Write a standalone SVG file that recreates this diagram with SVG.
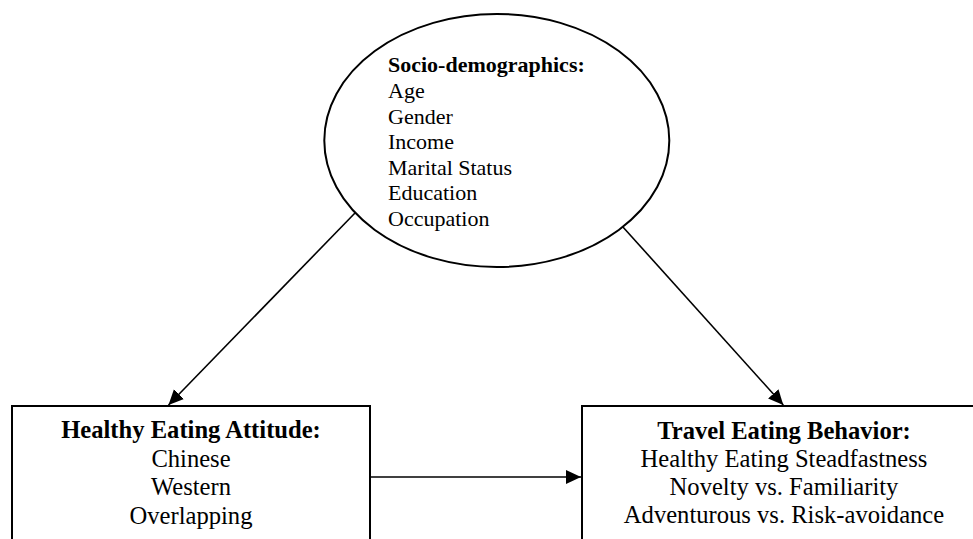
<svg xmlns="http://www.w3.org/2000/svg" width="973" height="539" viewBox="0 0 973 539">
<defs>
<marker id="ah" markerUnits="userSpaceOnUse" markerWidth="16" markerHeight="16" refX="15" refY="7" orient="auto">
<path d="M0,0 L15,7 L0,14 z" fill="#000"/>
</marker>
<style>
.shape{fill:#fff;stroke:#000;stroke-width:2}
.conn{stroke:#000;stroke-width:1.6;fill:none;marker-end:url(#ah)}
.t{font-family:"Liberation Serif","Times New Roman",serif;fill:#000}
.e{font-size:22px}
.b{font-size:24.6px;text-anchor:middle}
.h{font-weight:bold}
</style>
</defs>
<rect width="973" height="539" fill="#fff"/>
<g id="socio">
<ellipse class="shape" cx="496.8" cy="140.5" rx="172.5" ry="126.5"/>
<text class="t e h" x="388" y="72">Socio-demographics:</text>
<text class="t e" x="388" y="98">Age</text>
<text class="t e" x="388" y="124">Gender</text>
<text class="t e" x="388" y="149">Income</text>
<text class="t e" x="388" y="175">Marital Status</text>
<text class="t e" x="388" y="200">Education</text>
<text class="t e" x="388" y="226">Occupation</text>
</g>
<g id="attitude">
<rect class="shape" x="12" y="406" width="358" height="150"/>
<text class="t b h" x="191" y="438">Healthy Eating Attitude:</text>
<text class="t b" x="191" y="467">Chinese</text>
<text class="t b" x="191" y="495">Western</text>
<text class="t b" x="191" y="524">Overlapping</text>
</g>
<g id="behavior">
<rect class="shape" x="582" y="406" width="410" height="150"/>
<text class="t b h" x="784" y="439">Travel Eating Behavior:</text>
<text class="t b" x="784" y="467">Healthy Eating Steadfastness</text>
<text class="t b" x="784" y="495">Novelty vs. Familiarity</text>
<text class="t b" x="784" y="523">Adventurous vs. Risk-avoidance</text>
</g>
<g id="connectors">
<line class="conn" x1="355" y1="213" x2="168.5" y2="405"/>
<line class="conn" x1="622.7" y1="226.7" x2="783.3" y2="405"/>
<line class="conn" x1="371" y1="477" x2="581" y2="477"/>
</g>
</svg>
